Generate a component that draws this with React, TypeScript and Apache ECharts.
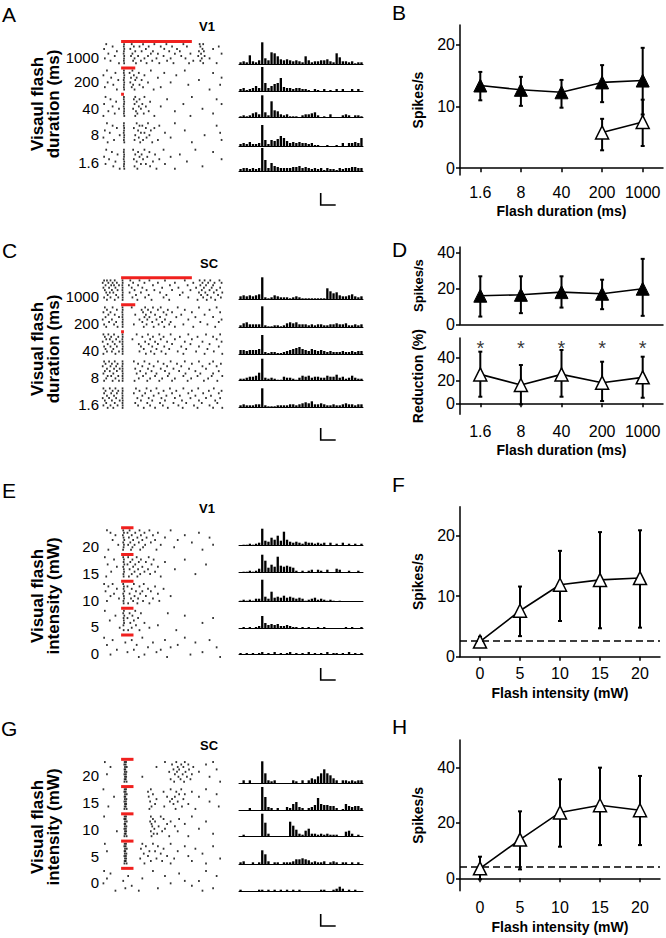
import React, { useEffect, useRef } from 'react';
import * as echarts from 'echarts';

const FONT = '"Liberation Sans", Arial, Helvetica, sans-serif';

// ---------- categories / tick labels ----------
const durationLabels = ['1.6', '8', '40', '200', '1000'];
const intensityLabels = ['0', '5', '10', '15', '20'];
const rasterDurRows = ['1000', '200', '40', '8', '1.6'];
const rasterIntRows = ['20', '15', '10', '5', '0'];
const flashDurA = [1000, 200, 40, 8, 1.6];
const flashDurInt = [175, 175, 175, 175, 175];

// ---------- B ----------
const bFilledMean = [13.4, 12.7, 12.3, 13.9, 14.2];
const bFilledLow = [11.0, 10.1, 9.8, 10.7, 8.7];
const bFilledHigh = [15.6, 14.8, 14.3, 16.7, 19.5];
const bOpenMean: any[] = ['-', '-', '-', 5.8, 7.5];
const bOpenLow: any[] = [null, null, null, 2.9, 3.6];
const bOpenHigh: any[] = [null, null, null, 8.0, 11.1];

// ---------- D ----------
const dTopMean = [15.9, 16.4, 17.9, 17.0, 19.8];
const dTopLow = [4.3, 6.2, 9.3, 8.4, 4.7];
const dTopHigh = [26.7, 26.7, 26.7, 24.8, 36.4];
const dBotMean = [25.4, 16.1, 25.4, 18.1, 22.8];
const dBotLow = [5.8, -0.9, 5.8, 2.0, 4.9];
const dBotHigh = [45.3, 33.6, 46.8, 36.5, 40.9];
const dStars = [52.6, 52.6, 52.6, 52.6, 52.6];

// ---------- F ----------
const fMean = [2.5, 7.6, 11.9, 12.7, 13.0];
const fLow = [1.7, 3.4, 5.9, 4.7, 4.8];
const fHigh = [3.3, 11.6, 17.5, 20.6, 20.9];
const fBaseline = 2.6;

// ---------- H ----------
const hMean = [3.6, 14.0, 23.8, 26.4, 24.6];
const hLow = [-0.4, 3.2, 11.4, 12.0, 12.0];
const hHigh = [7.8, 24.2, 35.8, 40.0, 37.0];
const hBaseline = 4.0;

// ---------- PSTHs (spike counts per bin, 40 bins) ----------
const psthA = [
  [2,3,2,9,3,2,4,22,6,4,12,11,8,5,4,5,4,3,4,3,2,8,4,2,3,3,4,4,5,3,2,11,7,3,3,2,3,1,2,2],
  [2,3,1,2,3,5,3,24,8,3,5,7,8,13,4,3,3,2,3,3,2,2,1,0,2,1,0,2,0,1,0,2,0,2,0,0,2,0,2,0],
  [1,2,1,2,4,5,3,22,5,2,16,7,6,3,2,3,1,1,1,0,2,3,3,4,5,2,0,1,0,3,0,0,0,2,3,2,0,2,2,1],
  [2,3,2,4,2,2,3,21,6,2,6,5,7,10,8,5,3,4,3,4,3,3,2,3,1,1,0,0,1,0,0,1,0,3,0,3,3,4,3,8],
  [2,3,3,2,3,2,3,23,11,3,8,5,4,3,3,3,3,4,4,5,3,4,3,2,3,2,3,1,3,2,2,1,3,2,3,3,4,4,3,3],
];
const psthC = [
  [3,4,3,4,3,4,5,22,2,1,2,4,3,2,2,2,1,2,3,2,1,1,1,1,1,1,1,1,11,8,6,7,4,3,3,4,5,3,2,3],
  [2,4,5,3,3,3,3,21,2,1,1,2,2,1,2,4,5,4,5,3,3,3,2,3,2,3,3,2,2,3,3,4,3,3,4,2,2,3,2,3],
  [4,4,3,4,4,4,5,19,2,1,2,2,1,1,2,3,4,5,6,7,5,4,3,5,4,3,4,3,2,3,2,2,2,3,2,2,3,2,3,3],
  [2,2,3,4,4,5,8,22,3,2,3,2,1,1,4,3,3,2,1,3,5,4,5,3,4,4,3,3,5,4,4,6,3,4,2,3,5,3,2,2],
  [2,3,2,2,2,3,3,19,2,1,1,1,2,2,2,2,3,3,2,3,4,5,4,6,3,3,4,3,2,2,3,2,2,3,4,3,3,2,3,3],
];
const psthE = [
  [0,1,1,2,1,2,3,17,5,4,8,6,10,5,14,6,4,3,4,3,2,4,3,3,2,3,2,3,0,3,0,2,0,3,0,2,0,2,0,2],
  [0,1,1,2,1,2,4,18,12,5,8,6,16,7,6,7,6,5,2,0,2,0,2,3,0,3,2,0,3,0,0,4,3,0,0,2,0,0,2,0],
  [1,2,1,2,1,3,3,22,5,3,10,4,5,4,6,4,5,4,3,4,3,1,2,3,4,2,3,2,1,2,1,0,1,0,0,0,0,0,0,0],
  [0,1,0,1,0,1,2,12,5,3,4,3,4,2,2,3,2,1,1,0,1,0,1,0,0,1,0,1,0,0,0,0,0,0,1,0,1,0,0,1],
  [1,0,1,0,1,0,1,2,0,1,0,2,0,1,0,1,2,0,1,0,1,0,2,0,1,0,1,0,2,0,1,1,0,1,0,2,0,1,0,1],
];
const psthG = [
  [0,3,0,3,0,0,0,22,10,3,2,3,0,0,0,0,0,3,2,0,3,0,3,5,4,7,10,14,10,8,5,3,0,3,3,2,3,2,3,3],
  [0,0,0,2,0,0,0,23,13,3,2,0,2,0,0,3,2,6,8,3,2,0,2,3,5,12,6,5,5,4,4,2,0,1,6,4,3,4,4,2],
  [0,2,0,0,0,0,0,23,14,3,0,0,0,0,0,0,15,11,7,3,2,6,8,3,3,2,3,2,3,2,2,2,0,0,5,6,3,0,2,0],
  [2,3,0,0,2,0,2,14,10,3,0,2,2,0,2,2,2,3,5,5,6,5,4,2,3,2,2,3,0,2,3,2,0,2,2,0,2,0,2,0],
  [2,0,0,0,0,0,2,2,0,2,0,2,0,2,0,2,0,2,0,2,0,0,0,0,0,0,2,2,0,0,2,3,5,3,0,2,0,2,0,0],
];

// ---------- Rasters: spike times (ms) per trial, per condition row ----------
const rasterA = [
  [[-210,42,150,310,470,640,880,1110,1160],[-120,38,180,260,390,560,720,930,1120,1380],[-240,45,130,350,610,790,1150,1300],[-60,40,200,290,450,680,830,1100,1170],[-180,36,160,420,520,760,980,1130,1420],[-90,44,140,240,380,600,850,1090,1180],[-230,41,190,330,500,700,910,1140,1250],[-150,39,170,280,440,650,1020,1120],[-30,43,210,360,540,740,960,1160,1350]],
  [[-200,40,160,420,900],[-80,38,120,250,610,1300],[-250,45,180,330,780],[-140,42,140,220,520,1420],[-40,37,200,290,1100],[-190,44,130,380,700],[-110,41,170,260,950,1400],[-230,39,150,310,560],[-60,43,190,460,1250]],
  [[-220,40,200,330,1000],[-150,38,180,260,650,1350],[-70,44,220,410],[-240,41,190,300,880,1420],[-120,37,250,350,560],[-30,43,170,280,1150],[-180,42,210,390,760],[-90,39,230,320,1300],[-250,45,200,470,980]],
  [[-200,40,220,380,760],[-120,38,260,300,540,1350],[-60,43,180,350,470],[-230,41,240,420,900],[-160,37,280,330,620,1400],[-20,44,200,400,1180],[-250,42,250,360,700],[-100,39,190,310,520,1420],[-190,45,270,440,1000]],
  [[-210,40,170,330,600,1050],[-130,38,240,400,1300],[-50,43,200,290,480,830],[-240,41,260,370,700],[-170,37,180,310,540,1420],[-80,44,220,450,930],[-220,42,280,350,620],[-110,39,190,410,1150],[-20,45,230,500,760]],
];
const rasterC = [
  [[-240,-200,-150,-90,20,130,260,400,620,900,1110,1180,1260,1390],[-260,-180,-120,-60,22,170,330,520,760,1020,1150,1230,1320,1420],[-220,-140,-100,-30,18,110,240,450,690,940,1120,1200,1300],[-250,-170,-80,21,150,300,580,810,1060,1170,1280,1400],[-230,-130,-50,19,190,360,470,720,980,1140,1250,1350],[-210,-160,-110,23,120,280,550,870,1100,1190,1310,1430],[-190,-70,20,210,390,640,830,1130,1220,1370],[-240,-150,-40,22,160,340,600,950,1160,1270,1410],[-200,-90,21,230,430,680,1080,1210,1330]],
  [[-230,-120,20,150,340,450,560,800,1100,1350],[-200,-60,22,290,380,520,660,900,1250],[-250,-150,18,310,420,600,720,1000,1400],[-180,-90,21,200,350,480,640,850,1180],[-220,-30,19,330,400,550,780,1050,1300],[-260,-130,23,260,370,500,620,950,1420],[-170,-70,20,300,440,580,700,1120,1380],[-240,-100,22,180,360,530,680,880,1220],[-210,-50,21,320,460,610,760,1020,1330]],
  [[-250,-180,-100,20,220,380,540,700,950,1200,1400],[-230,-140,-40,22,300,450,600,830,1080,1300],[-210,-160,-70,18,160,410,560,760,1000,1350],[-260,-120,-20,21,340,480,650,900,1150,1420],[-190,-90,19,250,390,520,720,980,1250],[-240,-150,-60,23,280,440,610,850,1100,1380],[-220,-110,20,320,500,680,920,1220],[-200,-130,-30,22,260,420,570,800,1060,1310],[-250,-80,21,350,470,630,880,1180,1430]],
  [[-240,-170,-90,20,180,330,520,700,900,1100,1300],[-220,-130,-50,22,240,400,600,790,1000,1250,1410],[-260,-150,-70,18,300,460,650,850,1150,1350],[-200,-100,-20,21,200,380,560,740,960,1200],[-230,-160,-60,19,270,430,620,820,1050,1380],[-250,-110,23,220,350,500,680,910,1120,1300],[-190,-140,-40,20,310,480,660,880,1080,1280,1430],[-210,-80,22,250,410,580,760,990,1230],[-240,-120,-30,21,190,370,540,720,940,1170,1360]],
  [[-250,-160,-80,20,210,360,500,690,880,1090,1310],[-220,-120,-40,22,260,420,600,780,1000,1240,1420],[-240,-140,-60,18,180,340,530,720,950,1160,1380],[-200,-100,21,300,460,640,830,1050,1270],[-260,-170,-70,19,230,390,570,760,980,1200,1400],[-230,-130,-20,23,280,440,620,860,1100,1330],[-210,-90,20,200,370,550,740,920,1140,1360],[-250,-150,-50,22,240,410,590,810,1030,1250],[-190,-110,21,320,480,660,870,1080,1300,1430]],
];
const rasterE = [
  [[-200,30,120,260,400,700],[-150,40,90,200,330,520,1100],[-80,25,150,280,450,900],[35,110,230,360,620,1250],[-120,45,170,300,480,800],[30,130,250,420,1000],[-40,40,100,190,340,560,1300],[35,160,310,750],[-180,28,140,270,500,1150]],
  [[-230,30,100,220,390],[-100,40,160,280,460,900],[35,130,250,350,620],[-190,45,90,200,430,1200],[-60,30,170,300,520],[38,120,240,380,760],[-140,42,190,330,480],[33,150,270,410,1050],[-210,36,110,230,560]],
  [[-240,-120,30,180,320],[-180,40,90,260,480],[-60,35,150,380,600],[-220,45,210,300,420],[-100,30,120,270,520],[-150,38,190,350,700],[-30,42,140,240,450],[-200,33,170,310,540],[36,100,230,400]],
  [[-230,40,200],[30,120,280,660],[-80,45,160,900],[35,90,240,1300],[-160,38,180],[42,130,330,1150],[33,210,520],[-20,150,400],[36,100,260,780]],
  [[-240,300,900],[-120,150,620,1250],[60,450,1050],[-200,220,800],[380,700,1350],[-60,180,560],[90,500,1150],[-150,330,980],[250,650,1400]],
];
const rasterG = [
  [[-230,50,70,620,780,900,1300],[45,65,720,850,950,1200],[-150,55,80,500,800,880,1020],[48,60,740,820,960,1350],[52,75,680,790,910,1100],[-200,46,68,760,870,1000],[54,72,300,810,930,1250],[50,66,700,840,980],[47,78,750,890,1400]],
  [[-250,50,70,420,700,850,1200],[45,65,380,600,780,1000],[55,80,450,820,900,1350],[-100,48,60,390,650,760,1100],[52,75,500,720,880],[46,68,410,690,800,1250],[54,72,480,740,950],[-180,50,66,430,610,860,1380],[47,78,400,770,1050]],
  [[-240,50,70,420,560,1000],[45,65,450,600,820],[55,80,410,480,700,1200],[48,60,430,650,900],[52,75,440,530,760],[46,68,470,620,1100],[-60,54,72,420,580,800],[50,66,460,510,1300],[47,78,430,680,950]],
  [[-230,50,70,300,450,700],[45,65,350,520,900,1300],[55,80,280,600,1050],[-200,48,60,400,480,800],[52,75,320,560,1150],[46,68,380,650,950],[54,72,270,500,750,1400],[50,66,420,580,1000],[47,78,330,700,1200]],
  [[-240,450,1200],[-150,820],[100,620,1350],[-200,300],[30,900,1100],[-250,700],[150,1000],[60,520,1300],[-80,250,1150]],
];

const bins = Array.from({ length: 40 }, (_, i) => String(i));

function buildOption() {
  const grid: any[] = [];
  const xAxis: any[] = [];
  const yAxis: any[] = [];
  const series: any[] = [];
  const graphic: any[] = [];

  const add = (g: any, x: any, y: any) => {
    grid.push(g);
    const i = grid.length - 1;
    xAxis.push({ ...x, gridIndex: i });
    yAxis.push({ ...y, gridIndex: i });
    return i;
  };

  const axisLineStyle = { show: true, lineStyle: { color: '#000', width: 1.5 } };

  // ---------- right panels ----------
  const rightPanel = (box: any, cats: string[], ymin: number, ymax: number, yticks: number[], showX: boolean, xName: string, yName: string, yNameSize: number) =>
    add(
      box,
      {
        type: 'category',
        data: cats,
        boundaryGap: true,
        axisLine: axisLineStyle,
        axisTick: { show: showX, alignWithLabel: true, interval: 0, length: 4, lineStyle: { color: '#000', width: 1.5 } },
        axisLabel: { show: showX, interval: 0, hideOverlap: false, color: '#000', fontSize: 16, margin: 9, fontFamily: FONT },
        name: xName,
        nameLocation: 'middle',
        nameGap: 29,
        nameTextStyle: { color: '#000', fontWeight: 'bold', fontSize: 14, fontFamily: FONT },
        splitLine: { show: false },
      },
      {
        type: 'value',
        min: ymin,
        max: ymax,
        axisLine: axisLineStyle,
        axisTick: { show: true, length: 4, customValues: yticks, lineStyle: { color: '#000', width: 1.5 } },
        axisLabel: { color: '#000', fontSize: 16, margin: 5, customValues: yticks, fontFamily: FONT },
        splitLine: { show: false },
        name: yName,
        nameLocation: 'middle',
        nameGap: 35,
        nameTextStyle: { color: '#000', fontWeight: 'bold', fontSize: yNameSize, fontFamily: FONT },
      }
    );

  const errSeries = (idx: number, low: any[], high: any[]) => ({
    type: 'custom',
    xAxisIndex: idx,
    yAxisIndex: idx,
    z: 1,
    silent: true,
    encode: { x: 0, y: [1, 2] },
    data: low.map((l, i) => (l == null ? null : [i, l, high[i]])).filter((d) => d),
    renderItem: (params: any, api: any) => {
      const x = api.value(0);
      const p1 = api.coord([x, api.value(1)]);
      const p2 = api.coord([x, api.value(2)]);
      const st = { stroke: '#000', lineWidth: 2 };
      return {
        type: 'group',
        children: [
          { type: 'line', shape: { x1: p1[0], y1: p1[1], x2: p2[0], y2: p2[1] }, style: st },
          { type: 'line', shape: { x1: p1[0] - 2, y1: p1[1], x2: p1[0] + 2, y2: p1[1] }, style: st },
          { type: 'line', shape: { x1: p2[0] - 2, y1: p2[1], x2: p2[0] + 2, y2: p2[1] }, style: st },
        ],
      };
    },
  });

  const lineSeries = (idx: number, data: any[], open: boolean, extra: any = {}) => ({
    type: 'line',
    xAxisIndex: idx,
    yAxisIndex: idx,
    data,
    z: 3,
    silent: true,
    symbol: 'triangle',
    symbolSize: 13,
    connectNulls: false,
    itemStyle: open ? { color: '#fff', borderColor: '#000', borderWidth: 1.5 } : { color: '#000', borderColor: '#000', borderWidth: 1 },
    lineStyle: { color: '#000', width: 1.6 },
    ...extra,
  });

  const dashedMark = (v: number) => ({
    silent: true,
    symbol: ['none', 'none'],
    label: { show: false },
    lineStyle: { color: '#000', type: [7, 4], width: 1.5 },
    data: [{ yAxis: v }],
  });

  // B
  const iB = rightPanel({ left: 460, top: 25, width: 203, height: 150 }, durationLabels, -1.1, 23.2, [0, 10, 20], true, 'Flash duration (ms)', 'Spikes/s', 14);
  series.push(errSeries(iB, bFilledLow, bFilledHigh));
  series.push(errSeries(iB, bOpenLow, bOpenHigh));
  series.push(lineSeries(iB, bFilledMean, false));
  series.push(lineSeries(iB, bOpenMean, true));

  // D top
  const iDt = rightPanel({ left: 460, top: 247, width: 203, height: 77.3 }, durationLabels, 0, 43, [0, 20, 40], false, '', 'Spikes/s', 13);
  series.push(errSeries(iDt, dTopLow, dTopHigh));
  series.push(lineSeries(iDt, dTopMean, false));
  // D bottom
  const iDb = rightPanel({ left: 460, top: 338, width: 203, height: 76.3 }, durationLabels, -9.6, 57.3, [0, 20, 40], true, 'Flash duration (ms)', 'Reduction (%)', 14);
  series.push(errSeries(iDb, dBotLow, dBotHigh));
  series.push(lineSeries(iDb, dBotMean, true));
  series.push({
    type: 'scatter',
    xAxisIndex: iDb,
    yAxisIndex: iDb,
    data: dStars,
    symbolSize: 0,
    silent: true,
    label: { show: true, formatter: '*', position: 'inside', color: '#000', fontSize: 20, offset: [0, 5], fontFamily: FONT },
  });

  // F
  const iF = rightPanel({ left: 460, top: 506.7, width: 200, height: 150 }, intensityLabels, 0, 24.8, [0, 10, 20], true, 'Flash intensity (mW)', 'Spikes/s', 14);
  series.push(errSeries(iF, fLow, fHigh));
  series.push(lineSeries(iF, fMean, true, { markLine: dashedMark(fBaseline) }));

  // H
  const iH = rightPanel({ left: 460, top: 740, width: 200, height: 150.7 }, intensityLabels, -4.5, 50, [0, 20, 40], true, 'Flash intensity (mW)', 'Spikes/s', 14);
  series.push(errSeries(iH, hLow, hHigh));
  series.push(lineSeries(iH, hMean, true, { markLine: dashedMark(hBaseline) }));

  // ---------- rasters ----------
  const rasterPanel = (top: number, height: number, rows: number[][][], labels: string[], labelPos: number[], durs: number[]) => {
    const i = add(
      { left: 102, top, width: 121, height },
      { type: 'value', min: -270, max: 1440, show: false },
      {
        type: 'value',
        inverse: true,
        min: -1,
        max: 50,
        axisLine: { show: false },
        axisTick: { show: false },
        splitLine: { show: false },
        axisLabel: {
          customValues: labelPos,
          formatter: (v: number) => {
            const k = labelPos.findIndex((p) => Math.abs(p - v) < 1e-6);
            return k >= 0 ? labels[k] : '';
          },
          color: '#000',
          fontSize: 15,
          margin: 3,
          fontFamily: FONT,
        },
      }
    );
    const pts: number[][] = [];
    rows.forEach((trials, r) =>
      trials.forEach((times, k) => times.forEach((t) => pts.push([t, r * 10 + 1 + k * 0.9])))
    );
    series.push({
      type: 'scatter',
      xAxisIndex: i,
      yAxisIndex: i,
      data: pts,
      symbol: 'rect',
      symbolSize: [1.7, 2],
      itemStyle: { color: '#000' },
      silent: true,
    });
    durs.forEach((d, r) =>
      series.push({
        type: 'line',
        xAxisIndex: i,
        yAxisIndex: i,
        data: [[0, r * 10], [d, r * 10]],
        symbol: 'none',
        silent: true,
        z: 4,
        lineStyle: { color: '#f0201e', width: 3, cap: 'butt' },
      })
    );
  };

  rasterPanel(38.86, 134.6, rasterA, rasterDurRows, [5.9, 15.3, 25.2, 35.4, 46.0], flashDurA);
  rasterPanel(275.0, 137.7, rasterC, rasterDurRows, [6.8, 16.9, 26.8, 36.9, 46.9], flashDurA);
  rasterPanel(525.0, 136.8, rasterE, rasterIntRows, [7.1, 17.0, 27.0, 37.0, 46.8], flashDurInt);
  rasterPanel(756.6, 139.0, rasterG, rasterIntRows, [6.1, 15.9, 25.7, 35.5, 45.3], flashDurInt);

  // ---------- PSTHs ----------
  const psthPanel = (baselines: number[], rows: number[][]) => {
    rows.forEach((vals, r) => {
      const i = add(
        { left: 239, top: baselines[r] - 24, width: 124, height: 24 },
        {
          type: 'category',
          data: bins,
          boundaryGap: true,
          axisLine: { show: true, lineStyle: { color: '#000', width: 1 } },
          axisTick: { show: false },
          axisLabel: { show: false },
        },
        { type: 'value', min: 0, max: 24, show: false }
      );
      series.push({
        type: 'bar',
        xAxisIndex: i,
        yAxisIndex: i,
        data: vals,
        barCategoryGap: '25%',
        itemStyle: { color: '#000' },
        silent: true,
      });
    });
  };
  psthPanel([64.3, 91, 117.3, 146, 171], psthA);
  psthPanel([299.3, 327.3, 354, 380.7, 407.3], psthC);
  psthPanel([545.7, 572.7, 601.7, 628, 654], psthE);
  psthPanel([783.3, 810, 836.7, 864.3, 891.7], psthG);

  // ---------- annotations ----------
  const txt = (x: number, y: number, text: string, font: string, align = 'left', rotation = 0, lineHeight?: number) => ({
    type: 'text',
    x,
    y,
    rotation,
    silent: true,
    style: {
      text,
      font,
      fill: '#000',
      align,
      verticalAlign: 'middle',
      textAlign: align,
      textVerticalAlign: 'middle',
      lineHeight,
    },
  });
  const letterFont = `21px ${FONT}`;
  graphic.push(txt(2, 14.5, 'A', letterFont));
  graphic.push(txt(392, 12, 'B', letterFont));
  graphic.push(txt(2, 250, 'C', letterFont));
  graphic.push(txt(392, 249, 'D', letterFont));
  graphic.push(txt(2, 490.5, 'E', letterFont));
  graphic.push(txt(392, 484, 'F', letterFont));
  graphic.push(txt(1, 728.5, 'G', letterFont));
  graphic.push(txt(392, 726, 'H', letterFont));

  const areaFont = `bold 13px ${FONT}`;
  graphic.push(txt(207, 26, 'V1', areaFont, 'center'));
  graphic.push(txt(209, 263, 'SC', areaFont, 'center'));
  graphic.push(txt(207, 508, 'V1', areaFont, 'center'));
  graphic.push(txt(209, 745, 'SC', areaFont, 'center'));

  const ylFont = `bold 17px ${FONT}`;
  graphic.push(txt(45, 104, 'Visaul flash\nduration (ms)', ylFont, 'center', Math.PI / 2, 16));
  graphic.push(txt(45, 349, 'Visual flash\nduration (ms)', ylFont, 'center', Math.PI / 2, 16));
  graphic.push(txt(45, 596, 'Visual flash\nintensity (mW)', ylFont, 'center', Math.PI / 2, 16));
  graphic.push(txt(45, 827, 'Visual flash\nintensity (mW)', ylFont, 'center', Math.PI / 2, 16));

  const scaleBar = (x: number, y: number) => ({
    type: 'polyline',
    silent: true,
    shape: { points: [[x, y - 12], [x, y], [x + 15, y]] },
    style: { stroke: '#000', lineWidth: 1.6, fill: null },
  });
  graphic.push(scaleBar(320.7, 205));
  graphic.push(scaleBar(320.7, 440));
  graphic.push(scaleBar(320.7, 680));
  graphic.push(scaleBar(320.7, 926));

  return {
    animation: false,
    backgroundColor: '#fff',
    textStyle: { fontFamily: FONT },
    grid,
    xAxis,
    yAxis,
    series,
    graphic: { elements: graphic },
  };
}

export default function App() {
  const ref = useRef<HTMLDivElement>(null);
  useEffect(() => {
    if (!ref.current) return;
    const chart = echarts.init(ref.current, undefined, { renderer: 'svg' });
    chart.setOption(buildOption() as any);
    return () => chart.dispose();
  }, []);
  return (
    <div
      ref={ref}
      style={{ position: 'absolute', left: 0, top: 0, width: 666, height: 938, background: '#fff' }}
    />
  );
}
